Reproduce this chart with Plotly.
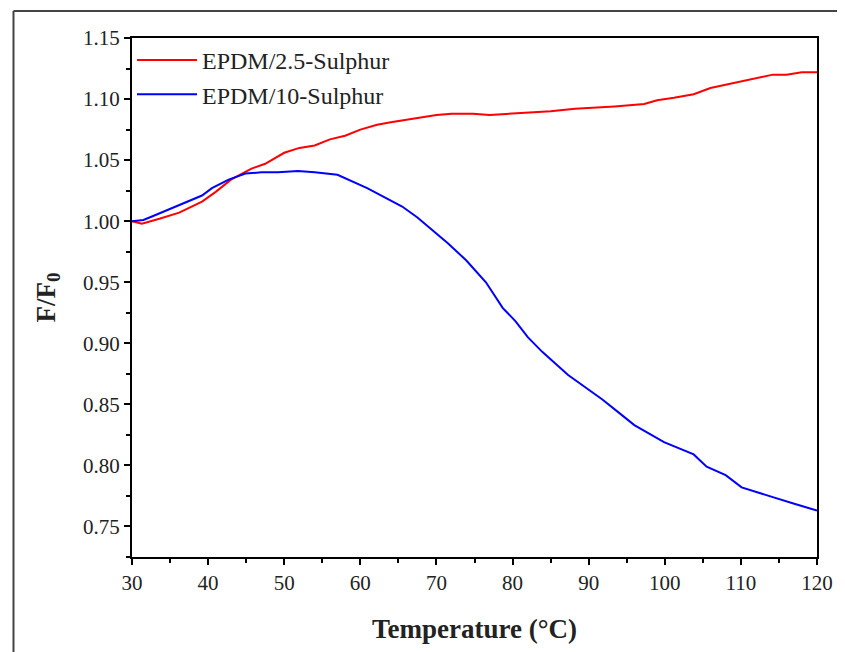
import plotly.graph_objects as go

# temperature (°C) and normalised force F/F0
temp_red = [30, 31.3, 33.6, 36.2, 39.2, 41, 43, 45.7, 47.5, 50, 52, 54, 56, 58, 60, 62.2,
            64, 67, 70, 72, 74.8, 77, 80, 83, 85, 88.2, 91, 93.4, 97.3, 99, 101.2, 103.8,
            106, 109, 111.6, 114.2, 116, 118, 120]
ff0_red = [1.000, 0.998, 1.002, 1.007, 1.016, 1.024, 1.034, 1.043, 1.047, 1.056, 1.060, 1.062,
           1.067, 1.070, 1.075, 1.079, 1.081, 1.084, 1.087, 1.088, 1.088, 1.087, 1.088, 1.089,
           1.090, 1.092, 1.093, 1.094, 1.096, 1.099, 1.101, 1.104, 1.109, 1.113, 1.116, 1.120,
           1.120, 1.122, 1.122]

temp_blue = [30, 31.5, 32.7, 36.2, 39.2, 40.5, 42.7, 44.9, 47, 49.2, 51.8, 54, 57, 60.9, 63,
             65.5, 67.5, 69.4, 71.5, 73.9, 76.5, 78.7, 80.4, 82, 83.9, 87.3, 89.5, 91.8, 94,
             96, 99.9, 103.8, 105.5, 108, 110.1, 112, 114.2, 116.8, 120]
ff0_blue = [1.000, 1.001, 1.004, 1.013, 1.021, 1.027, 1.034, 1.039, 1.040, 1.040, 1.041, 1.040,
            1.038, 1.027, 1.020, 1.012, 1.003, 0.993, 0.982, 0.968, 0.950, 0.929, 0.918, 0.905,
            0.893, 0.874, 0.864, 0.854, 0.843, 0.833, 0.819, 0.809, 0.799, 0.792, 0.782, 0.778,
            0.774, 0.769, 0.763]

FONT = "Liberation Serif"
TXT = "#222222"

fig = go.Figure()
fig.add_trace(go.Scatter(x=temp_red, y=ff0_red, mode="lines", name="EPDM/2.5-Sulphur",
                         line=dict(color="#ff0000", width=2)))
fig.add_trace(go.Scatter(x=temp_blue, y=ff0_blue, mode="lines", name="EPDM/10-Sulphur",
                         line=dict(color="#0000ff", width=2)))

axis_common = dict(
    showline=True, linecolor="black", linewidth=2, mirror=True,
    ticks="outside", ticklen=6, tickwidth=2, tickcolor="black",
    showgrid=False, zeroline=False,
)

fig.update_xaxes(
    range=[30, 120], dtick=10, tick0=30,
    tickfont=dict(family=FONT, size=21, color=TXT),
    minor=dict(ticks="outside", dtick=5, ticklen=4, tickwidth=2, tickcolor="black"),
    title=dict(text="<b>Temperature (°C)</b>", font=dict(family=FONT, size=27, color=TXT),
               standoff=25),
    **axis_common,
)
fig.update_yaxes(
    range=[0.725, 1.15], dtick=0.05, tick0=0.75, tickformat=".2f",
    tickfont=dict(family=FONT, size=21, color=TXT),
    minor=dict(ticks="outside", dtick=0.025, ticklen=4, tickwidth=2, tickcolor="black"),
    title=dict(text="<b>F/F<sub>0</sub></b>", font=dict(family=FONT, size=27, color=TXT),
               standoff=20),
    **axis_common,
)

# outer frame of the figure (left and top edges)
fig.add_shape(type="line", xref="paper", yref="paper", x0=-0.173, x1=-0.173, y0=1.052, y1=-0.25,
              line=dict(color="#444444", width=2))
fig.add_shape(type="line", xref="paper", yref="paper", x0=-0.173, x1=1.2, y0=1.052, y1=1.052,
              line=dict(color="#444444", width=2))

# page body adds an 8px offset, so the figure is sized/margined to compensate
fig.update_layout(
    width=837, height=644,
    margin=dict(l=124, r=16, t=30, b=95),
    plot_bgcolor="white", paper_bgcolor="white",
    showlegend=True,
    legend=dict(x=0.0, y=1.0, xanchor="left", yanchor="top", bgcolor="rgba(0,0,0,0)",
                font=dict(family=FONT, size=24, color=TXT), tracegroupgap=0,
                itemwidth=60),
)

fig.write_html("out.html")
